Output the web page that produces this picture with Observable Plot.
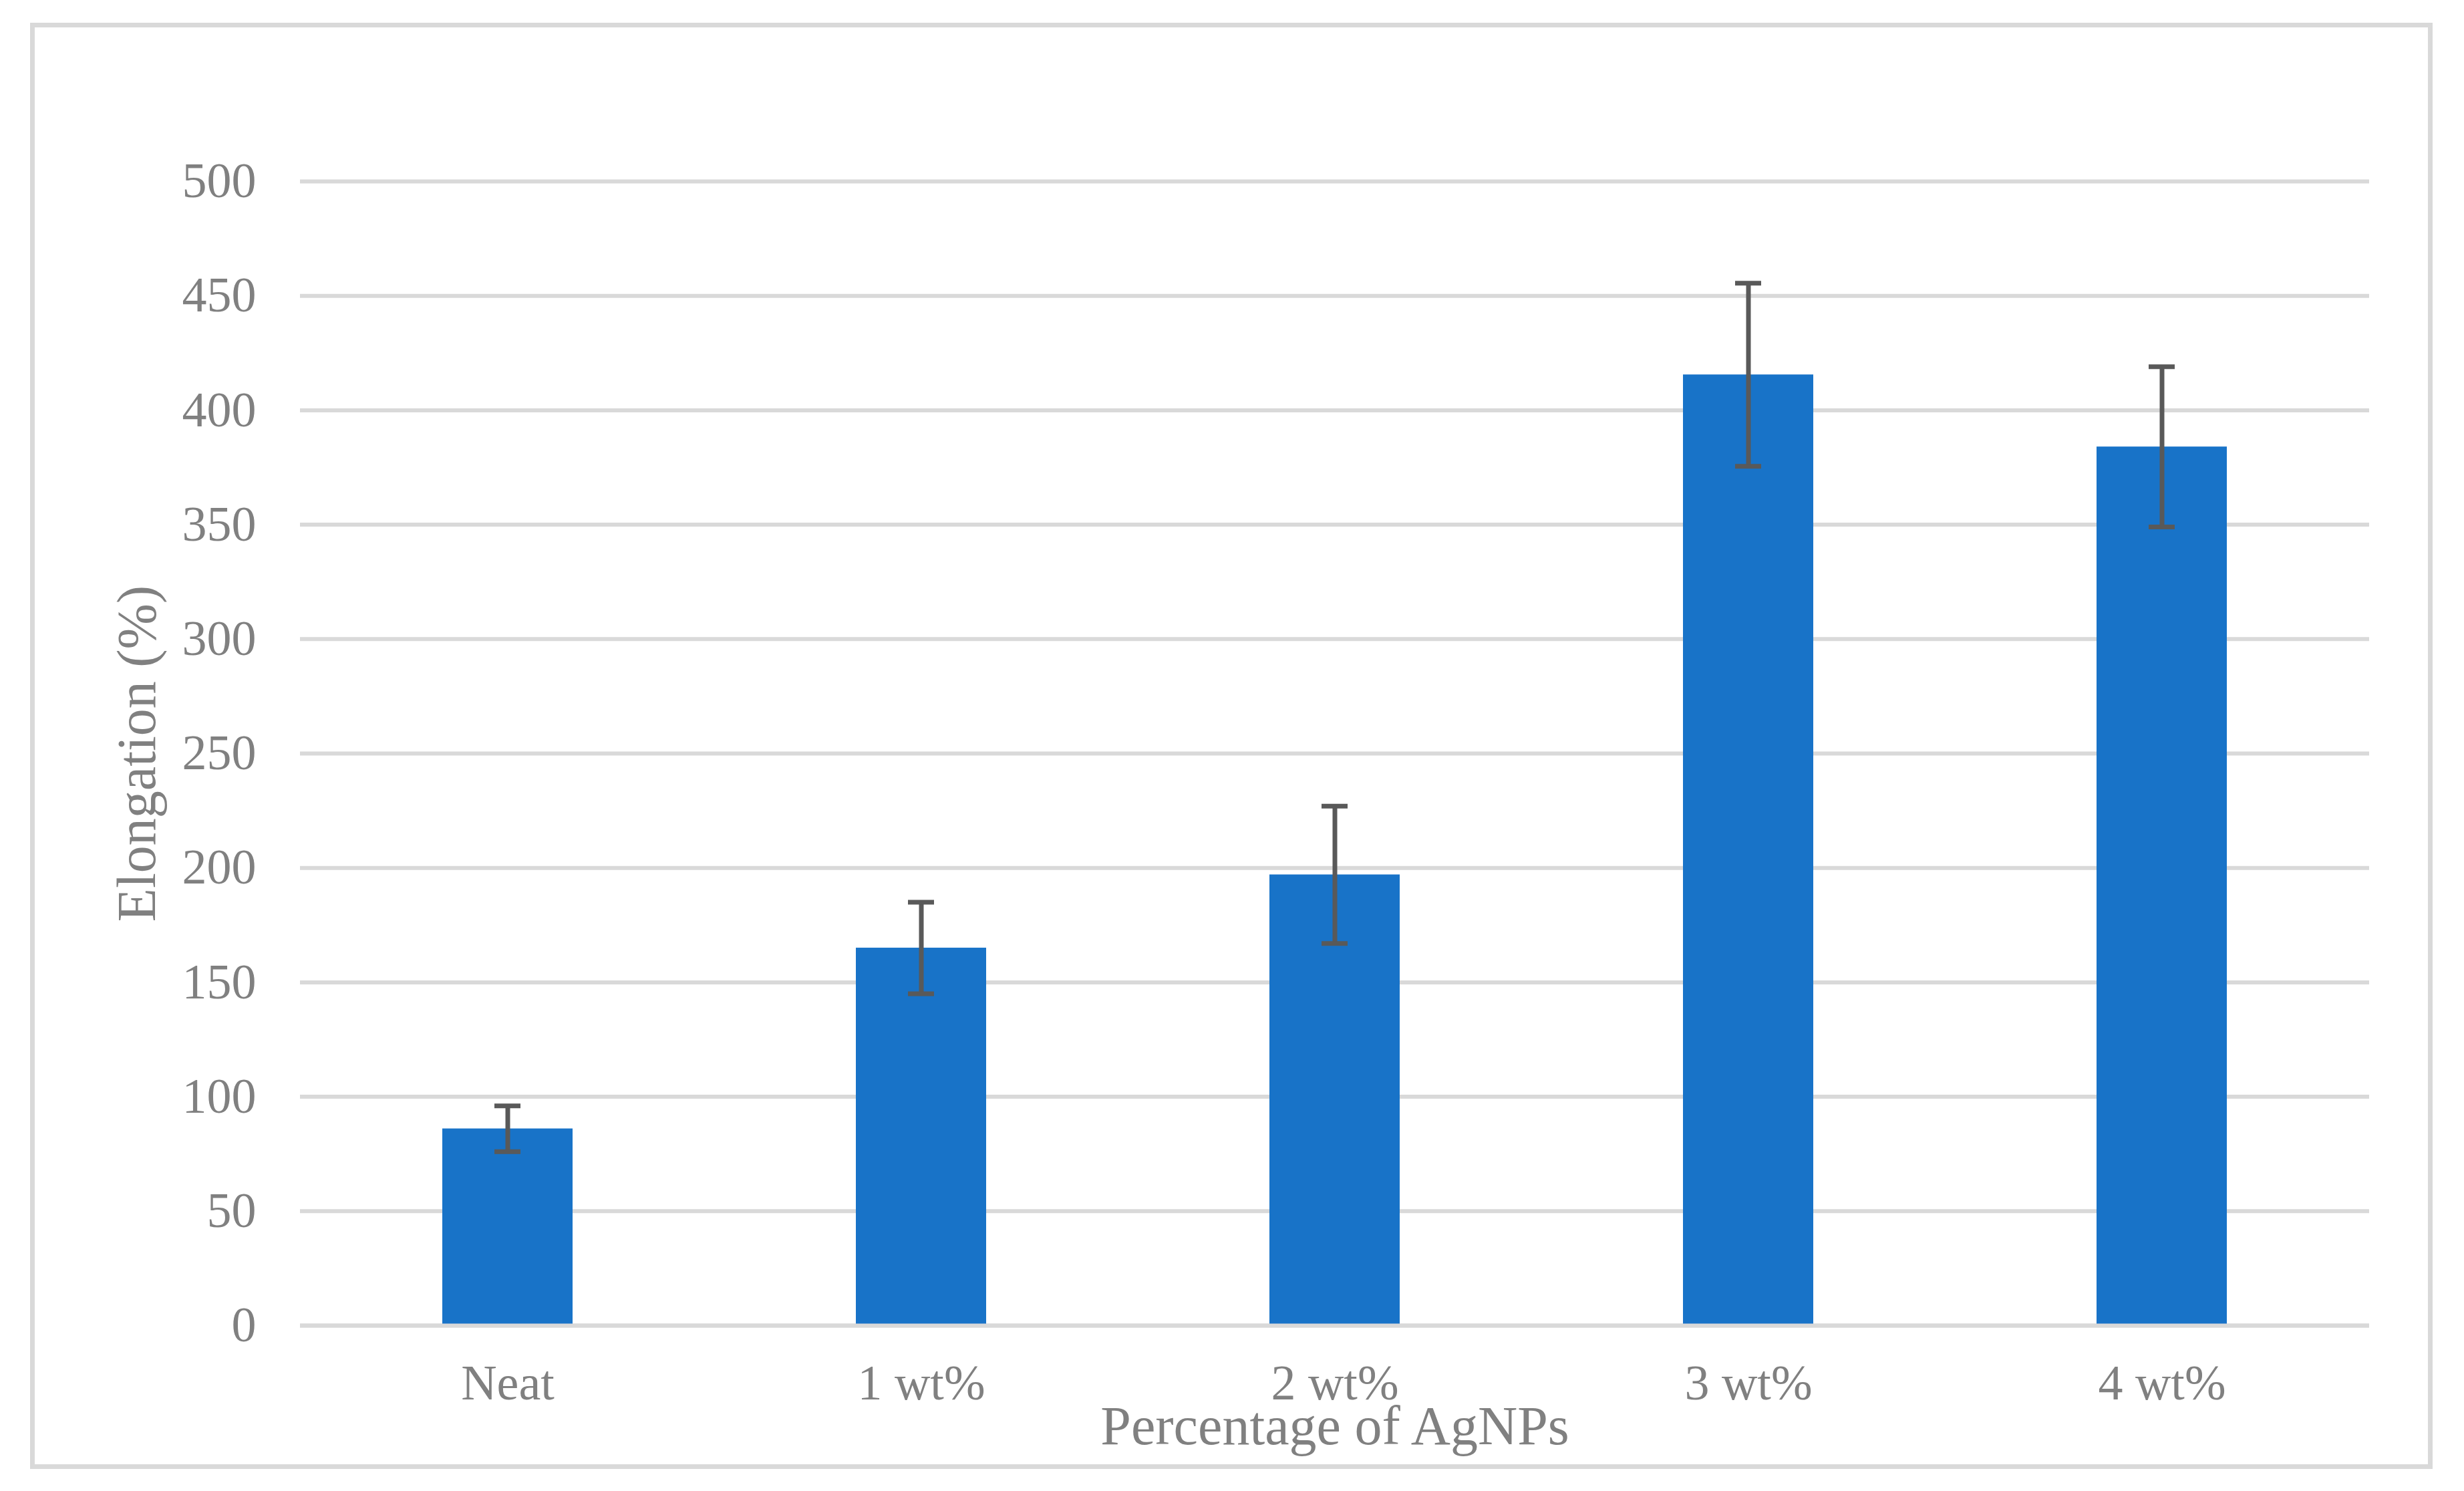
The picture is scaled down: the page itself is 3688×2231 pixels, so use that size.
<!DOCTYPE html>
<html>
<head>
<meta charset="utf-8">
<script src="https://cdn.jsdelivr.net/npm/d3@7"></script>
<script src="https://cdn.jsdelivr.net/npm/@observablehq/plot@0.6"></script>
<style>
  html, body { margin: 0; padding: 0; background: #ffffff; }
  #wrap { position: relative; width: 3688px; height: 2231px; overflow: hidden; }
  #border { position: absolute; left: 45px; top: 34px; width: 3596px; height: 2164px;
            box-sizing: border-box; border: 7px solid #d9d9d9; pointer-events: none; }
  #chart { position: absolute; left: 0; top: 0; }
</style>
</head>
<body>
<div id="wrap">
  <div id="chart"></div>
  <div id="border"></div>
</div>
<script>
const categories = ["Neat", "1 wt%", "2 wt%", "3 wt%", "4 wt%"];
const elongation = [86, 165, 197, 415.5, 384];
const errorSize = [10, 20, 30, 40, 35];
const yTicks = [0, 50, 100, 150, 200, 250, 300, 350, 400, 450, 500];
const yTitle = "Elongation (%)";
const xTitle = "Percentage of AgNPs";

const data = categories.map((c, i) => ({
  cat: c,
  value: elongation[i],
  lo: elongation[i] - errorSize[i],
  hi: elongation[i] + errorSize[i]
}));

const font = "'Times New Roman', 'Liberation Serif', serif";
const textColor = "#808080";
const gridColor = "#d9d9d9";
const errColor = "#595959";

const chart = Plot.plot({
  width: 3688,
  height: 2231,
  marginLeft: 449,
  marginRight: 142,
  marginTop: 271,
  marginBottom: 248,
  style: { fontFamily: font, fontSize: "74px", color: textColor, background: "transparent", overflow: "visible" },
  x: { domain: categories, paddingInner: 0.685, paddingOuter: 0.3425, label: null },
  y: { domain: [0, 500], label: null },
  marks: [
    Plot.ruleY(yTicks, { stroke: gridColor, strokeWidth: 6 }),
    Plot.barY(data, { x: "cat", y: "value", fill: "#1873c8" }),
    Plot.ruleY([0], { stroke: gridColor, strokeWidth: 6 }),
    Plot.ruleX(data, { x: "cat", y1: "lo", y2: "hi", stroke: errColor, strokeWidth: 7 }),
    Plot.tickY(data, { x: "cat", y: "lo", stroke: errColor, strokeWidth: 7, insetLeft: 78, insetRight: 78 }),
    Plot.tickY(data, { x: "cat", y: "hi", stroke: errColor, strokeWidth: 7, insetLeft: 78, insetRight: 78 }),
    Plot.axisY({ ticks: yTicks, tickSize: 0, tickPadding: 66, label: null, fontSize: 74 }),
    Plot.axisX({ tickSize: 0, tickPadding: 58, label: null, fontSize: 74 }),
    Plot.text([yTitle], { frameAnchor: "left", dx: -244, rotate: -90, fontSize: 82, fill: textColor, textAnchor: "middle" }),
    Plot.text([xTitle], { frameAnchor: "bottom", dy: 177, fontSize: 82, fill: textColor, textAnchor: "middle" })
  ]
});
document.getElementById("chart").appendChild(chart);
</script>
</body>
</html>
